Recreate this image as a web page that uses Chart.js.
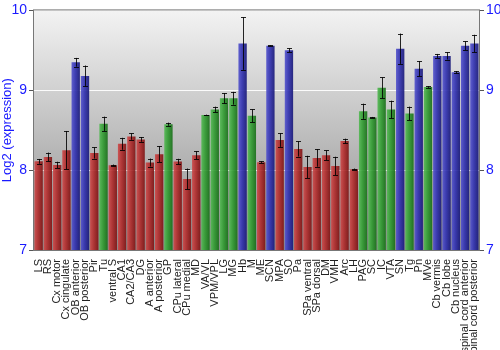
<!DOCTYPE html>
<html>
<head>
<meta charset="utf-8">
<script src="https://cdn.jsdelivr.net/npm/chart.js@4/dist/chart.umd.min.js"></script>
<style>
  html, body { margin: 0; padding: 0; background: #fff; }
  #wrap { width: 500px; height: 350px; }
</style>
</head>
<body>
<div id="wrap"><canvas id="expr"></canvas></div>
<script>
// Brain regions, mean log2 expression, error and colour group
const regions = ["LS", "RS", "Cx motor", "Cx cingulate", "OB anterior", "OB posterior", "Pir", "Tu",
  "ventral S", "CA1", "CA2/CA3", "DG", "A anterior", "A posterior", "GP", "CPu lateral", "CPu medial",
  "MD", "VA/VL", "VPM/VPL", "LG", "MG", "Hb", "M", "ME", "SCN", "MPA", "SO", "Pa", "SPa ventral",
  "SPa dorsal", "DM", "VMH", "Arc", "LH", "PAG", "SC", "IC", "VTA", "SN", "Tg", "Pn", "MVe",
  "Cb vermis", "Cb lobe", "Cb nucleus", "spinal cord anterior", "spinal cord posterior"];

const means = [8.11, 8.165, 8.065, 8.25, 9.35, 9.18, 8.215, 8.58,
  8.06, 8.33, 8.42, 8.385, 8.095, 8.2, 8.575, 8.107, 7.89,
  8.186, 8.69, 8.76, 8.9, 8.9, 9.585, 8.68, 8.1, 9.556, 8.376, 9.5, 8.265, 8.04,
  8.153, 8.186, 8.053, 8.364, 8.012, 8.737, 8.66, 9.03, 8.76, 9.52, 8.71, 9.27, 9.04,
  9.43, 9.43, 9.225, 9.556, 9.585];

const errors = [0.03, 0.055, 0.04, 0.24, 0.055, 0.13, 0.07, 0.09,
  0.01, 0.075, 0.04, 0.03, 0.05, 0.1, 0.02, 0.035, 0.13,
  0.05, 0.005, 0.035, 0.065, 0.08, 0.33, 0.08, 0.01, 0.005, 0.085, 0.025, 0.095, 0.14,
  0.11, 0.06, 0.115, 0.03, 0.008, 0.095, 0.006, 0.13, 0.11, 0.19, 0.085, 0.095, 0.01,
  0.025, 0.045, 0.015, 0.055, 0.11];

const groups = ["r", "r", "r", "r", "b", "b", "r", "g",
  "r", "r", "r", "r", "r", "r", "g", "r", "r",
  "r", "g", "g", "g", "g", "b", "g", "r", "b", "r", "b", "r", "r",
  "r", "r", "r", "r", "r", "g", "g", "g", "g", "b", "g", "b", "g",
  "b", "b", "b", "b", "b"];

const yTicks = [7, 8, 9, 10];

const shades = {
  r: ["rgba(205,75,75,0.92)", "rgba(175,45,45,0.92)", "rgba(125,20,20,0.92)"],
  g: ["rgba(85,185,85,0.92)", "rgba(50,155,50,0.92)", "rgba(25,110,25,0.92)"],
  b: ["rgba(85,85,205,0.92)", "rgba(50,50,175,0.92)", "rgba(25,25,120,0.92)"]
};

const BAR_PCT = 0.9;

// horizontal shading across each bar
function barFill(ctx) {
  const chart = ctx.chart;
  const xs = chart.scales.x;
  if (!xs || ctx.type !== "data" || !chart.chartArea) return shades[groups[ctx.dataIndex]][1];
  const cx = xs.getPixelForValue(ctx.dataIndex);
  const w = (chart.chartArea.width / regions.length) * BAR_PCT;
  const g = chart.ctx.createLinearGradient(cx - w / 2, 0, cx + w / 2, 0);
  const s = shades[groups[ctx.dataIndex]];
  g.addColorStop(0, s[0]);
  g.addColorStop(0.45, s[1]);
  g.addColorStop(1, s[2]);
  return g;
}

const plotBackground = {
  id: "plotBackground",
  beforeDraw(chart) {
    const { ctx, chartArea: a } = chart;
    const g = ctx.createLinearGradient(0, a.top, 0, a.bottom);
    g.addColorStop(0, "#f3f3f3");
    g.addColorStop(1, "#8c8c8c");
    ctx.save();
    ctx.fillStyle = g;
    ctx.fillRect(a.left, a.top, a.width, a.height);
    ctx.restore();
  },
  afterDraw(chart) {
    const { ctx, chartArea: a } = chart;
    ctx.save();
    ctx.strokeStyle = "#777";
    ctx.lineWidth = 1;
    ctx.strokeRect(a.left - 0.5, a.top - 0.5, a.width + 1, a.height + 1);
    ctx.restore();
  }
};

const errorBars = {
  id: "errorBars",
  afterDatasetsDraw(chart) {
    const { ctx } = chart;
    const xs = chart.scales.x, ys = chart.scales.y;
    ctx.save();
    ctx.strokeStyle = "rgba(0,0,0,0.85)";
    ctx.lineWidth = 1;
    means.forEach((m, i) => {
      const x = Math.round(xs.getPixelForValue(i)) + 0.5;
      const yHi = ys.getPixelForValue(m + errors[i]);
      const yLo = ys.getPixelForValue(m - errors[i]);
      ctx.beginPath();
      ctx.moveTo(x, yHi);
      ctx.lineTo(x, yLo);
      ctx.moveTo(x - 2.5, Math.round(yHi) + 0.5);
      ctx.lineTo(x + 2.5, Math.round(yHi) + 0.5);
      ctx.moveTo(x - 2.5, Math.round(yLo) + 0.5);
      ctx.lineTo(x + 2.5, Math.round(yLo) + 0.5);
      ctx.stroke();
    });
    ctx.restore();
  }
};

const tickFont = { family: "Liberation Sans, Arial, sans-serif", size: 14 };

new Chart(document.getElementById("expr"), {
  type: "bar",
  data: {
    labels: regions,
    datasets: [{
      data: means,
      backgroundColor: barFill,
      borderWidth: 0,
      barPercentage: BAR_PCT,
      categoryPercentage: 1
    }]
  },
  options: {
    responsive: true,
    maintainAspectRatio: false,
    animation: false,
    events: [],
    layout: { padding: { top: 9, right: 0, left: 0, bottom: 0 } },
    plugins: { legend: { display: false }, tooltip: { enabled: false } },
    scales: {
      x: {
        grid: { display: false },
        border: { display: false },
        ticks: {
          autoSkip: false,
          minRotation: 90,
          maxRotation: 90,
          padding: 1,
          color: "#222",
          font: { family: "Liberation Sans, Arial, sans-serif", size: 11 }
        },
        afterFit(s) { s.height = 100; }
      },
      y: {
        min: 7,
        max: 10,
        position: "left",
        afterBuildTicks(s) { s.ticks = yTicks.map(v => ({ value: v })); },
        grid: {
          color: (c) => (c.tick && (c.tick.value === 8 || c.tick.value === 9)) ? "rgba(255,255,255,0.9)" : "rgba(0,0,0,0)",
          tickColor: "#555",
          tickLength: 5
        },
        border: { display: false },
        ticks: { color: "#1a1aff", font: tickFont, padding: 2 },
        title: {
          display: true,
          text: "Log2 (expression)",
          color: "#1a1aff",
          font: { family: "Liberation Sans, Arial, sans-serif", size: 13 },
          padding: 0
        },
        afterFit(s) { s.width = 34; }
      },
      y2: {
        min: 7,
        max: 10,
        position: "right",
        afterBuildTicks(s) { s.ticks = yTicks.map(v => ({ value: v })); },
        grid: { drawOnChartArea: false, tickColor: "#555", tickLength: 5 },
        border: { display: false },
        ticks: { color: "#1a1aff", font: tickFont, padding: 2 },
        afterFit(s) { s.width = 21; }
      }
    }
  },
  plugins: [plotBackground, errorBars]
});
</script>
</body>
</html>
